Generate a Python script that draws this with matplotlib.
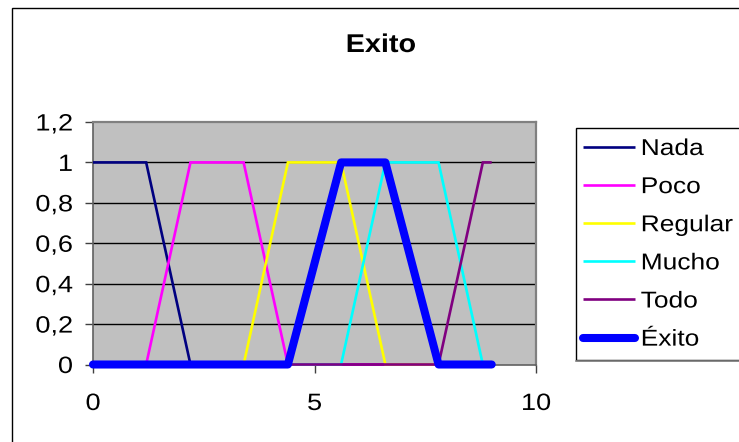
import matplotlib
matplotlib.use("Agg")
import matplotlib.pyplot as plt
from matplotlib.patheffects import AbstractPathEffect
from matplotlib.transforms import Affine2D
from matplotlib.patches import Rectangle
from matplotlib.lines import Line2D

# ---------------- data ----------------
x_points = [0, 1.2, 2.2, 3.4, 4.4, 5.6, 6.6, 7.8, 8.8, 9]
nada    = [1, 1, 0, 0, 0, 0, 0, 0, 0, 0]
poco    = [0, 0, 1, 1, 0, 0, 0, 0, 0, 0]
regular = [0, 0, 0, 0, 1, 1, 0, 0, 0, 0]
mucho   = [0, 0, 0, 0, 0, 0, 1, 1, 0, 0]
todo    = [0, 0, 0, 0, 0, 0, 0, 0, 1, 1]
exito   = [0, 0, 0, 0, 0, 1, 1, 0, 0, 0]
series_names = ["Nada", "Poco", "Regular", "Mucho", "Todo", "Éxito"]
title_text = "Exito"
x_ticks = [0, 5, 10]
x_ticklabels = ["0", "5", "10"]
y_ticks = [0, 0.2, 0.4, 0.6, 0.8, 1.0, 1.2]
y_ticklabels = ["0", "0,2", "0,4", "0,6", "0,8", "1", "1,2"]

# ---------------- styling ----------------
plt.rcParams["font.family"] = ["Liberation Sans", "DejaVu Sans"]
W, H = 739, 442
DPI = 100
SX = 1.15  # horizontal stretch of the text in the reference


class Stretch(AbstractPathEffect):
    def __init__(self, sx, pivot="left"):
        super().__init__()
        self.sx = sx
        self.pivot = pivot

    def draw_path(self, renderer, gc, tpath, affine, rgbFace=None):
        v = tpath.vertices
        if len(v) and self.pivot != "left":
            xmin, xmax = v[:, 0].min(), v[:, 0].max()
            p = xmax if self.pivot == "right" else 0.5 * (xmin + xmax)
        else:
            p = 0.0
        t = Affine2D().translate(-p, 0).scale(self.sx, 1).translate(p, 0)
        renderer.draw_path(gc, tpath, t + affine, rgbFace)


fig = plt.figure(figsize=(W / DPI, H / DPI), dpi=DPI)
fig.patch.set_facecolor("white")

def fx(px):
    return px / W

def fy(py):
    return 1 - py / H

# outer chart border (right/bottom edges lie outside the picture)
fig.add_artist(Rectangle((fx(11.5), -0.2), 1.2, fy(7.5) + 0.2,
                         transform=fig.transFigure, fill=False,
                         edgecolor="black", lw=1.0, clip_on=False))

left, right, top, bottom = 93, 536, 122, 364.5
ax = fig.add_axes([fx(left), fy(bottom), fx(right) - fx(left), fy(top) - fy(bottom)])
ax.set_facecolor("#C0C0C0")
ax.set_xlim(0, 10)
ax.set_ylim(0, 1.2)

for yv in y_ticks[1:-1]:
    ax.axhline(yv, color="black", lw=1.0, zorder=1)

colors = ["#000080", "#FF00FF", "#FFFF00", "#00FFFF", "#800080", "#0000FF"]
data = [nada, poco, regular, mucho, todo, exito]
handles = []
for name, ys, c in zip(series_names, data, colors):
    lw = 5.8 if name == "Éxito" else 1.9
    ln, = ax.plot(x_points, ys, color=c, lw=lw, clip_on=False, zorder=3,
                  solid_joinstyle="round" if name == "Éxito" else "miter",
                  solid_capstyle="round" if name == "Éxito" else "butt",
                  label=name)
    handles.append(ln)

for s in ["top", "right"]:
    ax.spines[s].set_color("#808080")
    ax.spines[s].set_linewidth(1.6)
for s in ["left", "bottom"]:
    ax.spines[s].set_color("#606060")
    ax.spines[s].set_linewidth(1.2)
ax.spines["left"].set_zorder(2)

ax.set_xticks(x_ticks)
ax.set_xticklabels(x_ticklabels)
ax.set_yticks(y_ticks)
ax.set_yticklabels(y_ticklabels)
ax.tick_params(axis="both", direction="out", length=5.5, width=1.0,
               color="#404040", labelsize=17)
ax.tick_params(axis="x", pad=15)
ax.tick_params(axis="y", pad=9)
for t in ax.get_yticklabels():
    t.set_path_effects([Stretch(SX, "right")])
for t in ax.get_xticklabels():
    t.set_path_effects([Stretch(SX, "center")])

# title
fig.text(fx(381), fy(52), title_text, ha="center", va="baseline",
         fontsize=18.5, fontweight="bold",
         path_effects=[Stretch(1.12, "center")])

# legend frame
fig.add_artist(Rectangle((fx(575.5), fy(360)), 1.0, fy(127.5) - fy(360),
                         transform=fig.transFigure, fill=True, facecolor="white",
                         edgecolor="black", lw=1.0, clip_on=False, zorder=4))
fig.add_artist(Line2D([fx(576), fx(760)], [fy(361), fy(361)],
                      transform=fig.transFigure, color="#808080", lw=1.2, zorder=4))

leg = fig.legend(handles, series_names, loc="upper left",
                 bbox_to_anchor=(fx(582.5), fy(137)), frameon=False,
                 fontsize=16.5, handlelength=2.28, handletextpad=0.26,
                 labelspacing=0.66, borderpad=0, borderaxespad=0)
leg.set_zorder(5)
for t in leg.get_texts():
    t.set_path_effects([Stretch(SX, "left")])

fig.savefig("out.png", dpi=DPI)
